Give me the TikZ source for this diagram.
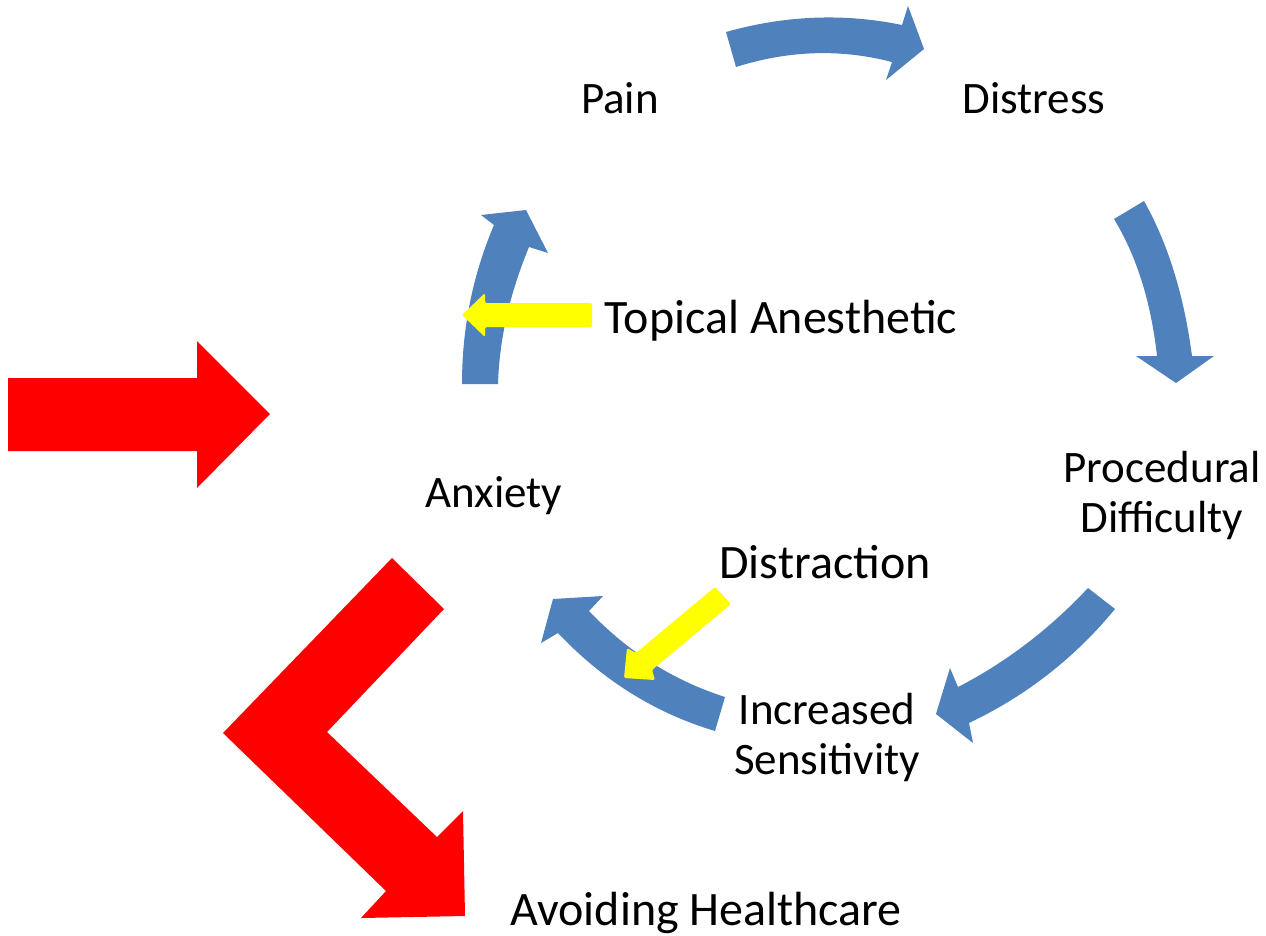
\documentclass[tikz,border=0pt]{standalone}
\usepackage{fontspec}
\setmainfont{Carlito}
\definecolor{cycleblue}{HTML}{4F81BD}
\definecolor{hlyellow}{HTML}{FFFF00}
\definecolor{alarmred}{HTML}{FF0000}
\tikzset{
  bluearrow/.style={fill=cycleblue, draw=none},
  yellowarrow/.style={fill=hlyellow, draw=none, rounded corners=1.5pt},
  redarrow/.style={fill=alarmred, draw=none},
  lbl/.style={inner sep=0pt, font=\fontsize{45}{50}\selectfont, align=center},
  biglbl/.style={inner sep=0pt, font=\fontsize{48}{54}\selectfont, align=center}
}
\begin{document}
\begin{tikzpicture}[x=1pt,y=-1pt]
\useasboundingbox (0,0) rectangle (1266,935);
\fill[white] (0,0) rectangle (1266,935);

% labels
\node[lbl, anchor=base] (pain) at (620,113) {Pain};
\node[lbl, anchor=base] (distress) at (1034,113) {Distress};
\node[biglbl, anchor=base] (topical) at (781,333) {Topical Anesthetic};
\node[lbl, anchor=base] (anxiety) at (494,507) {Anxiety};
\node[lbl] (proc) at (1162,495) {Procedural\\Difficulty};
\node[biglbl, anchor=base] (distraction) at (825,578) {Distraction};
\node[lbl] (incr) at (827,737) {Increased\\Sensitivity};
\node[biglbl, anchor=base] (avoid) at (706,925) {Avoiding Healthcare};

% blue cycle arrows
\path[bluearrow] (726,32) .. controls (785.3,15.3) and (844,13) .. (902,25) -- (908,6) -- (924,49)
  -- (886,80) -- (892,62) .. controls (840.7,48.7) and (788.7,50.3) .. (736,67) -- cycle;
\path[bluearrow] (1144,201) .. controls (1168,243.7) and (1184,295.3) .. (1192,356) -- (1214,356)
  -- (1176,383) -- (1136,356) -- (1157,356) .. controls (1151,302) and (1136.7,256.3) .. (1114,219) -- cycle;
\path[bluearrow] (1088,588) -- (1115,609) .. controls (1075,657.7) and (1026.3,695.7) .. (969,723)
  -- (973,743) -- (936,714) -- (950,668) -- (958,687) .. controls (1006,662.3) and (1049.3,629.3) .. (1088,588) -- cycle;
\path[bluearrow] (725,697) .. controls (673,680.3) and (627.7,651.7) .. (589,611) -- (603,596) -- (553,599)
  -- (541,643) -- (558,633) .. controls (602.7,680.3) and (655,713) .. (715,731) -- cycle;
\path[bluearrow] (462,384) .. controls (462,328) and (472.7,275) .. (494,225) -- (481,215) -- (526,210)
  -- (548,253) -- (529,247) .. controls (509.7,293.7) and (499.3,339.3) .. (498,384) -- cycle;

% yellow intervention arrows
\path[yellowarrow] (592,303) -- (485,303) -- (485,293) -- (462,315) -- (485,337)
  -- (485,327) -- (592,327) -- cycle;
\path[yellowarrow] (715,587) -- (636,653) -- (627,648) -- (624,678) -- (655,680)
  -- (652,670) -- (731,604) -- cycle;

% red arrows
\path[redarrow] (8,378) -- (197,378) -- (197,341) -- (270,414) -- (197,488)
  -- (197,451) -- (8,451) -- cycle;
\path[redarrow] (392,558) -- (444,609) -- (327,732) -- (437,837) -- (463,811)
  -- (465,916) -- (361,918) -- (386,891) -- (223,733) -- cycle;
\end{tikzpicture}
\end{document}
